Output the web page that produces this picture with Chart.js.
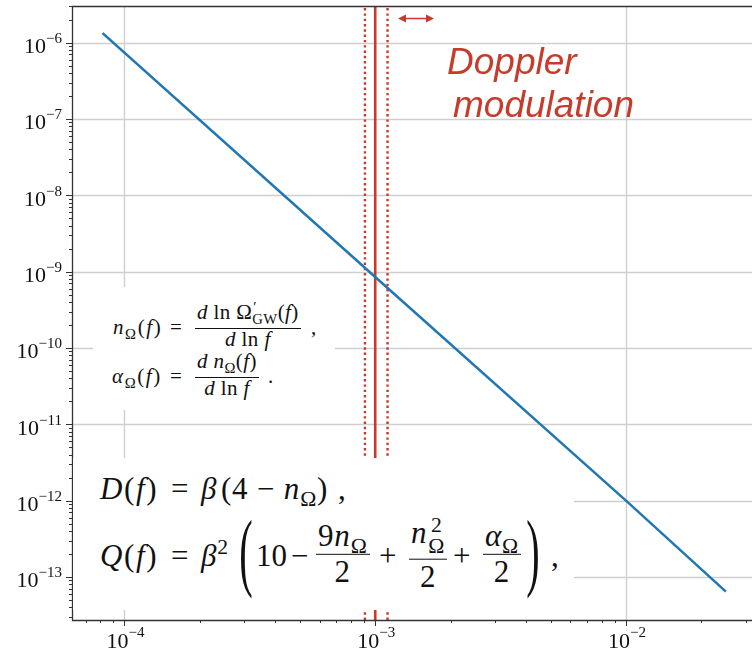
<!DOCTYPE html>
<html>
<head>
<meta charset="utf-8">
<script src="https://cdn.jsdelivr.net/npm/chart.js@4.4.1/dist/chart.umd.min.js"></script>
<style>
html,body{margin:0;padding:0;background:#fff;}
#wrap{position:relative;width:752px;height:652px;overflow:hidden;background:#fff;}
#c{position:absolute;left:0;top:0;}
.box{position:absolute;background:#fff;}
.p{position:absolute;font-family:"Liberation Serif","Times New Roman",serif;color:#111;white-space:nowrap;line-height:1;transform:translateY(-50%);}
.p i{font-style:italic;}
.fr{display:inline-flex;flex-direction:column;align-items:center;}
.fr>span{display:block;text-align:center;white-space:nowrap;line-height:1;}
.fr>.nu{border-bottom:1px solid #111;}
sub,sup{font-size:0.7em;line-height:0;}
.sm{font-size:21px;letter-spacing:0.4px;}
.sm.fr>.nu{padding:0 2px 5px 2px;border-bottom-width:1px;}
.sm.fr>.de{padding:0 2px 6px 2px;}
.bg{font-size:31px;letter-spacing:0.8px;}
.bg.fr>.nu{padding:0 2px 3px 2px;border-bottom-width:1.4px;}
.bg.fr>.de{padding:1px 2px 3.4px 2px;}
.bp{transform:translateY(-50%) scale(1.3,2.8);}
.st{display:inline-flex;flex-direction:column;font-size:0.7em;line-height:0.95;vertical-align:11px;margin-left:1px;}
.dop{position:absolute;font-family:"Liberation Sans",Arial,sans-serif;font-style:italic;font-size:37px;line-height:1;color:#c73b2b;white-space:nowrap;}
</style>
</head>
<body>
<div id="wrap">
<canvas id="c" width="752" height="652"></canvas>

<!-- white panels that hold the formulas -->
<div class="box" style="left:93px;top:287px;width:242px;height:123px;"></div>
<div class="box" style="left:73px;top:458px;width:501px;height:152px;"></div>

<!-- n_Omega line -->
<span class="p sm" style="left:113px;top:327px;letter-spacing:1.6px;"><i>n</i><sub>Ω</sub>(<i>f</i>)</span>
<span class="p sm" style="left:170px;top:327px;">=</span>
<span class="p sm fr" style="left:195px;top:329px;"><span class="nu"><i>d</i> ln Ω<span style="position:relative;"><sup style="position:absolute;left:1px;top:7px;">′</sup><sub>GW</sub></span>(<i>f</i>)</span><span class="de"><i>d</i> ln <i>f</i></span></span>
<span class="p sm" style="left:311px;top:327px;">,</span>

<!-- alpha_Omega line -->
<span class="p sm" style="left:112px;top:376px;letter-spacing:1.6px;"><i>α</i><sub>Ω</sub>(<i>f</i>)</span>
<span class="p sm" style="left:170px;top:376px;">=</span>
<span class="p sm fr" style="left:195px;top:378px;"><span class="nu"><i>d</i> <i>n</i><sub>Ω</sub>(<i>f</i>)</span><span class="de"><i>d</i> ln <i>f</i></span></span>
<span class="p sm" style="left:268px;top:376px;">.</span>

<!-- D line -->
<span class="p bg" style="left:100px;top:488px;letter-spacing:1.6px;"><i>D</i>(<i>f</i>)</span>
<span class="p bg" style="left:171px;top:488px;">=</span>
<span class="p bg" style="left:201px;top:488px;"><i>β</i></span>
<span class="p bg" style="left:221px;top:488px;">(4 − <i>n</i><sub>Ω</sub>)</span>
<span class="p bg" style="left:338px;top:488px;">,</span>

<!-- Q line -->
<span class="p bg" style="left:100px;top:555px;letter-spacing:1.6px;"><i>Q</i>(<i>f</i>)</span>
<span class="p bg" style="left:171px;top:555px;">=</span>
<span class="p bg" style="left:201px;top:555px;"><i>β</i><sup>2</sup></span>
<span class="p bg bp" style="left:241px;top:551px;">(</span>
<span class="p bg" style="left:256px;top:555px;letter-spacing:0;">10</span>
<span class="p bg" style="left:291px;top:555px;">−</span>
<span class="p bg fr" style="left:316px;top:555px;"><span class="nu">9<i>n</i><sub>Ω</sub></span><span class="de">2</span></span>
<span class="p bg" style="left:379px;top:555px;">+</span>
<span class="p bg fr" style="left:409px;top:555px;"><span class="nu"><i>n</i><span class="st"><span>2</span><span>Ω</span></span></span><span class="de">2</span></span>
<span class="p bg" style="left:453px;top:555px;">+</span>
<span class="p bg fr" style="left:483px;top:555px;"><span class="nu"><i>α</i><sub>Ω</sub></span><span class="de">2</span></span>
<span class="p bg bp" style="left:528px;top:551px;">)</span>
<span class="p bg" style="left:551px;top:555px;">,</span>

<div class="dop" style="left:447px;top:43px;">Doppler</div>
<div class="dop" style="left:453px;top:86px;">modulation</div>

<svg style="position:absolute;left:394px;top:10px;" width="44" height="18" viewBox="0 0 44 18">
  <line x1="9" y1="8.5" x2="35" y2="8.5" stroke="#c73b2b" stroke-width="1.5"/>
  <polygon points="4,8.5 12,4.5 12,12.5" fill="#c73b2b"/>
  <polygon points="40,8.5 32,4.5 32,12.5" fill="#c73b2b"/>
</svg>
</div>

<script>
// ---- data ----
const freq = [8.25e-5, 1.0e-3, 1.0e-2, 2.48e-2];
const omega = [1.3e-6, 8.5e-10, 1.0e-12, 6.6e-14];
const dopplerCenter = 1.0e-3;
const dopplerEdges = [9.1e-4, 1.12e-3];
const xMajorTicks = [1e-4, 1e-3, 1e-2];
const xTickExponents = [-4, -3, -2];
const yMajorTicks = [1e-6, 1e-7, 1e-8, 1e-9, 1e-10, 1e-11, 1e-12, 1e-13];
const yTickExponents = [-6, -7, -8, -9, -10, -11, -12, -13];
const xRange = [6.18e-5, 3.18e-2];
const yRange = [2.73e-14, 3.02e-6];

const RED = '#c73b2b';
const BLUE = '#1f77b4';

const curve = freq.map((f, i) => ({x: f, y: omega[i]}));
const vline = (x) => [{x: x, y: yRange[0]}, {x: x, y: yRange[1]}];

const axisPlugin = {
  id: 'mplAxes',
  beforeDatasetsDraw(chart) {
    const {ctx, chartArea: a, scales: {x, y}} = chart;
    ctx.save();
    ctx.strokeStyle = '#cfcfcf';
    ctx.lineWidth = 1.4;
    xMajorTicks.forEach(v => {
      const px = Math.round(x.getPixelForValue(v)) + 0.5;
      ctx.beginPath(); ctx.moveTo(px, a.top); ctx.lineTo(px, a.bottom); ctx.stroke();
    });
    yMajorTicks.forEach(v => {
      const py = Math.round(y.getPixelForValue(v)) + 0.5;
      ctx.beginPath(); ctx.moveTo(a.left, py); ctx.lineTo(a.right, py); ctx.stroke();
    });
    ctx.restore();
  },
  afterDraw(chart) {
    const {ctx, chartArea: a, scales: {x, y}} = chart;
    ctx.save();
    ctx.strokeStyle = '#333';
    ctx.lineWidth = 1.3;
    ctx.beginPath();
    ctx.moveTo(a.right, a.top + 0.5); ctx.lineTo(a.left + 0.5, a.top + 0.5);
    ctx.lineTo(a.left + 0.5, a.bottom + 0.5); ctx.lineTo(a.right, a.bottom + 0.5);
    ctx.stroke();
    ctx.lineWidth = 1;
    for (let e = -5; e <= -1; e++) {
      for (let k = 1; k <= 9; k++) {
        const v = k * Math.pow(10, e);
        if (v < xRange[0] || v > xRange[1]) continue;
        const px = Math.round(x.getPixelForValue(v)) + 0.5;
        const len = k === 1 ? 6 : 3;
        ctx.beginPath(); ctx.moveTo(px, a.bottom); ctx.lineTo(px, a.bottom + len); ctx.stroke();
      }
    }
    for (let e = -14; e <= -5; e++) {
      for (let k = 1; k <= 9; k++) {
        const v = k * Math.pow(10, e);
        if (v < yRange[0] || v > yRange[1]) continue;
        const py = Math.round(y.getPixelForValue(v)) + 0.5;
        const len = k === 1 ? 6 : 3;
        ctx.beginPath(); ctx.moveTo(a.left, py); ctx.lineTo(a.left - len, py); ctx.stroke();
      }
    }
    ctx.fillStyle = '#111';
    ctx.textBaseline = 'alphabetic';
    ctx.textAlign = 'left';
    const baseFont = '22px "Liberation Serif", serif';
    const expFont = '15px "Liberation Serif", serif';
    yMajorTicks.forEach((v, i) => {
      const py = y.getPixelForValue(v);
      const ex = '\u2212' + Math.abs(yTickExponents[i]);
      ctx.font = expFont; const w2 = ctx.measureText(ex).width;
      ctx.font = baseFont; const w1 = ctx.measureText('10').width;
      const right = a.left - 10;
      ctx.font = baseFont; ctx.fillText('10', right - w2 - w1, py + 10.5);
      ctx.font = expFont; ctx.fillText(ex, right - w2, py + 0.5);
    });
    xMajorTicks.forEach((v, i) => {
      const px = x.getPixelForValue(v);
      const ex = '\u2212' + Math.abs(xTickExponents[i]);
      ctx.font = expFont; const w2 = ctx.measureText(ex).width;
      ctx.font = baseFont; const w1 = ctx.measureText('10').width;
      const left = px - (w1 + w2) / 2 + 1;
      ctx.font = baseFont; ctx.fillText('10', left, a.bottom + 28);
      ctx.font = expFont; ctx.fillText(ex, left + w1, a.bottom + 17);
    });
    ctx.restore();
  }
};

new Chart(document.getElementById('c'), {
  type: 'line',
  data: {
    datasets: [
      {data: curve, borderColor: BLUE, borderWidth: 2.5, pointRadius: 0, borderCapStyle: 'square', tension: 0, order: 1},
      {data: vline(dopplerCenter), borderColor: RED, borderWidth: 2.6, pointRadius: 0, order: 2},
      {data: vline(dopplerEdges[0]), borderColor: RED, borderWidth: 2.4, borderDash: [2.4, 2.9], borderCapStyle: 'butt', pointRadius: 0, order: 2},
      {data: vline(dopplerEdges[1]), borderColor: RED, borderWidth: 2.4, borderDash: [2.4, 2.9], borderCapStyle: 'butt', pointRadius: 0, order: 2}
    ]
  },
  options: {
    responsive: false,
    animation: false,
    devicePixelRatio: 1,
    parsing: false,
    layout: {padding: {top: 6, right: 0, left: 0, bottom: 0}},
    plugins: {legend: {display: false}, tooltip: {enabled: false}},
    events: [],
    scales: {
      x: {
        type: 'logarithmic', min: xRange[0], max: xRange[1], bounds: 'data',
        grid: {display: false}, border: {display: false}, ticks: {display: false},
        afterFit: (s) => { s.height = 32; }
      },
      y: {
        type: 'logarithmic', min: yRange[0], max: yRange[1], bounds: 'data',
        grid: {display: false}, border: {display: false}, ticks: {display: false},
        afterFit: (s) => { s.width = 72; }
      }
    }
  },
  plugins: [axisPlugin]
});
</script>
</body>
</html>
